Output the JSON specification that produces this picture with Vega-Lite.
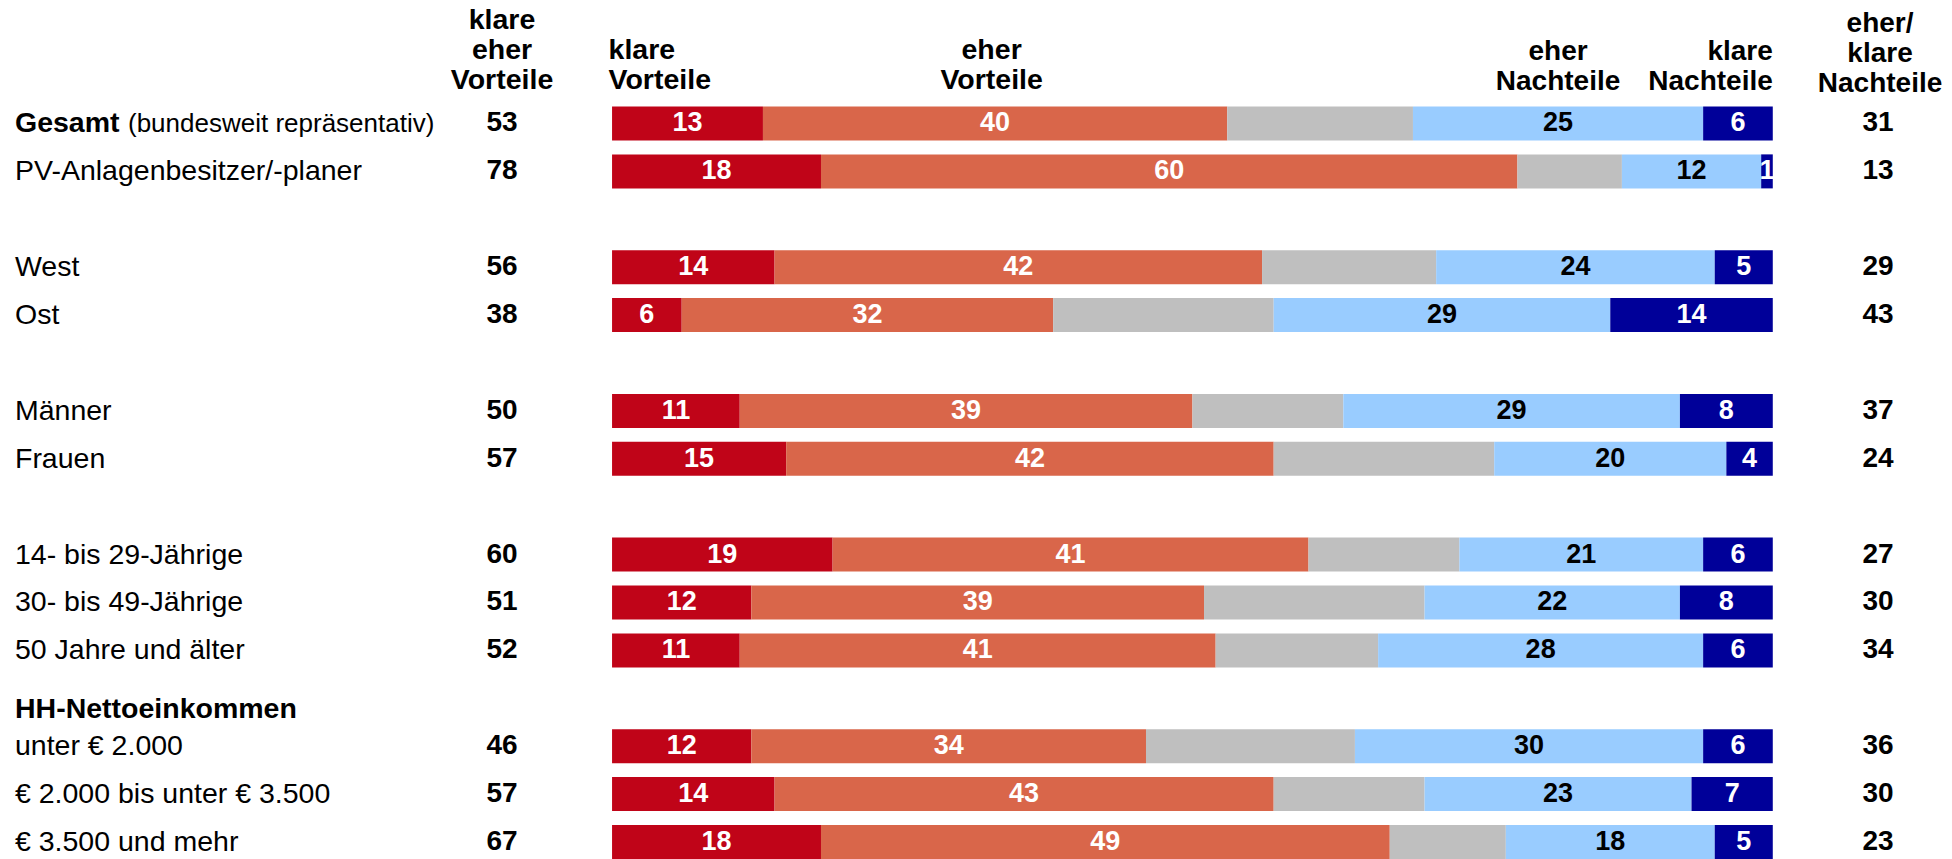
{
  "$schema": "https://vega.github.io/schema/vega-lite/v6.json",
  "width": 1952,
  "height": 859,
  "autosize": {"type": "fit", "contains": "padding"},
  "padding": 0,
  "background": "white",
  "config": {"view": {"stroke": null}, "font": "Liberation Sans", "text": {"font": "Liberation Sans"}},
  "datasets": {
    "cats": [
      {"cat": "klare Vorteile", "k": 1},
      {"cat": "eher Vorteile", "k": 2},
      {"cat": "weiß nicht", "k": 3},
      {"cat": "eher Nachteile", "k": 4},
      {"cat": "klare Nachteile", "k": 5}
    ],
    "bars": [
      {"row": "Gesamt", "cat": "klare Vorteile", "value": 13},
      {"row": "Gesamt", "cat": "eher Vorteile", "value": 40},
      {"row": "Gesamt", "cat": "weiß nicht", "value": 16},
      {"row": "Gesamt", "cat": "eher Nachteile", "value": 25},
      {"row": "Gesamt", "cat": "klare Nachteile", "value": 6},
      {"row": "PV-Anlagenbesitzer/-planer", "cat": "klare Vorteile", "value": 18},
      {"row": "PV-Anlagenbesitzer/-planer", "cat": "eher Vorteile", "value": 60},
      {"row": "PV-Anlagenbesitzer/-planer", "cat": "weiß nicht", "value": 9},
      {"row": "PV-Anlagenbesitzer/-planer", "cat": "eher Nachteile", "value": 12},
      {"row": "PV-Anlagenbesitzer/-planer", "cat": "klare Nachteile", "value": 1},
      {"row": "West", "cat": "klare Vorteile", "value": 14},
      {"row": "West", "cat": "eher Vorteile", "value": 42},
      {"row": "West", "cat": "weiß nicht", "value": 15},
      {"row": "West", "cat": "eher Nachteile", "value": 24},
      {"row": "West", "cat": "klare Nachteile", "value": 5},
      {"row": "Ost", "cat": "klare Vorteile", "value": 6},
      {"row": "Ost", "cat": "eher Vorteile", "value": 32},
      {"row": "Ost", "cat": "weiß nicht", "value": 19},
      {"row": "Ost", "cat": "eher Nachteile", "value": 29},
      {"row": "Ost", "cat": "klare Nachteile", "value": 14},
      {"row": "Männer", "cat": "klare Vorteile", "value": 11},
      {"row": "Männer", "cat": "eher Vorteile", "value": 39},
      {"row": "Männer", "cat": "weiß nicht", "value": 13},
      {"row": "Männer", "cat": "eher Nachteile", "value": 29},
      {"row": "Männer", "cat": "klare Nachteile", "value": 8},
      {"row": "Frauen", "cat": "klare Vorteile", "value": 15},
      {"row": "Frauen", "cat": "eher Vorteile", "value": 42},
      {"row": "Frauen", "cat": "weiß nicht", "value": 19},
      {"row": "Frauen", "cat": "eher Nachteile", "value": 20},
      {"row": "Frauen", "cat": "klare Nachteile", "value": 4},
      {"row": "14- bis 29-Jährige", "cat": "klare Vorteile", "value": 19},
      {"row": "14- bis 29-Jährige", "cat": "eher Vorteile", "value": 41},
      {"row": "14- bis 29-Jährige", "cat": "weiß nicht", "value": 13},
      {"row": "14- bis 29-Jährige", "cat": "eher Nachteile", "value": 21},
      {"row": "14- bis 29-Jährige", "cat": "klare Nachteile", "value": 6},
      {"row": "30- bis 49-Jährige", "cat": "klare Vorteile", "value": 12},
      {"row": "30- bis 49-Jährige", "cat": "eher Vorteile", "value": 39},
      {"row": "30- bis 49-Jährige", "cat": "weiß nicht", "value": 19},
      {"row": "30- bis 49-Jährige", "cat": "eher Nachteile", "value": 22},
      {"row": "30- bis 49-Jährige", "cat": "klare Nachteile", "value": 8},
      {"row": "50 Jahre und älter", "cat": "klare Vorteile", "value": 11},
      {"row": "50 Jahre und älter", "cat": "eher Vorteile", "value": 41},
      {"row": "50 Jahre und älter", "cat": "weiß nicht", "value": 14},
      {"row": "50 Jahre und älter", "cat": "eher Nachteile", "value": 28},
      {"row": "50 Jahre und älter", "cat": "klare Nachteile", "value": 6},
      {"row": "unter € 2.000", "cat": "klare Vorteile", "value": 12},
      {"row": "unter € 2.000", "cat": "eher Vorteile", "value": 34},
      {"row": "unter € 2.000", "cat": "weiß nicht", "value": 18},
      {"row": "unter € 2.000", "cat": "eher Nachteile", "value": 30},
      {"row": "unter € 2.000", "cat": "klare Nachteile", "value": 6},
      {"row": "€ 2.000 bis unter € 3.500", "cat": "klare Vorteile", "value": 14},
      {"row": "€ 2.000 bis unter € 3.500", "cat": "eher Vorteile", "value": 43},
      {"row": "€ 2.000 bis unter € 3.500", "cat": "weiß nicht", "value": 13},
      {"row": "€ 2.000 bis unter € 3.500", "cat": "eher Nachteile", "value": 23},
      {"row": "€ 2.000 bis unter € 3.500", "cat": "klare Nachteile", "value": 7},
      {"row": "€ 3.500 und mehr", "cat": "klare Vorteile", "value": 18},
      {"row": "€ 3.500 und mehr", "cat": "eher Vorteile", "value": 49},
      {"row": "€ 3.500 und mehr", "cat": "weiß nicht", "value": 10},
      {"row": "€ 3.500 und mehr", "cat": "eher Nachteile", "value": 18},
      {"row": "€ 3.500 und mehr", "cat": "klare Nachteile", "value": 5}
    ],
    "rows": [
      {"row": "Gesamt", "label": "Gesamt", "note": "(bundesweit repräsentativ)", "bold": true, "vor": 53, "nach": 31},
      {"row": "PV-Anlagenbesitzer/-planer", "label": "PV-Anlagenbesitzer/-planer", "vor": 78, "nach": 13},
      {"row": "West", "label": "West", "vor": 56, "nach": 29},
      {"row": "Ost", "label": "Ost", "vor": 38, "nach": 43},
      {"row": "Männer", "label": "Männer", "vor": 50, "nach": 37},
      {"row": "Frauen", "label": "Frauen", "vor": 57, "nach": 24},
      {"row": "14- bis 29-Jährige", "label": "14- bis 29-Jährige", "vor": 60, "nach": 27},
      {"row": "30- bis 49-Jährige", "label": "30- bis 49-Jährige", "vor": 51, "nach": 30},
      {"row": "50 Jahre und älter", "label": "50 Jahre und älter", "vor": 52, "nach": 34},
      {"row": "HH-Nettoeinkommen", "label": "HH-Nettoeinkommen", "bold": true, "heading": true},
      {"row": "unter € 2.000", "label": "unter € 2.000", "vor": 46, "nach": 36},
      {"row": "€ 2.000 bis unter € 3.500", "label": "€ 2.000 bis unter € 3.500", "vor": 57, "nach": 30},
      {"row": "€ 3.500 und mehr", "label": "€ 3.500 und mehr", "vor": 67, "nach": 23}
    ],
    "one": [{}]
  },
  "resolve": {"scale": {"color": "independent"}},
  "layer": [
    {
      "data": {"name": "bars"},
      "transform": [{"lookup": "cat", "from": {"data": {"name": "cats"}, "key": "cat", "fields": ["k"]}}],
      "mark": {"type": "bar"},
      "encoding": {
        "x": {"field": "value", "type": "quantitative", "stack": "zero", "scale": {"domain": [-52.73, 115.44], "nice": false, "zero": false}, "axis": null},
        "y": {"field": "row", "type": "nominal", "scale": {"domain": ["H", "Gesamt", "PV-Anlagenbesitzer/-planer", "gap1", "West", "Ost", "gap2", "Männer", "Frauen", "gap3", "14- bis 29-Jährige", "30- bis 49-Jährige", "50 Jahre und älter", "HH-Nettoeinkommen", "unter € 2.000", "€ 2.000 bis unter € 3.500", "€ 3.500 und mehr"], "paddingInner": 0.29, "paddingOuter": 0.6115, "align": 1}, "axis": null},
        "order": {"field": "k", "type": "quantitative", "sort": "ascending"},
        "color": {"field": "cat", "type": "nominal", "scale": {"domain": ["klare Vorteile", "eher Vorteile", "weiß nicht", "eher Nachteile", "klare Nachteile"], "range": ["#C00418", "#D9664A", "#BFBFBF", "#99CCFF", "#000099"]}, "legend": null}
      }
    },
    {
      "data": {"name": "bars"},
      "transform": [{"lookup": "cat", "from": {"data": {"name": "cats"}, "key": "cat", "fields": ["k"]}}],
      "mark": {"type": "text", "fontWeight": "bold", "fontSize": 27, "baseline": "middle", "align": "center"},
      "encoding": {
        "x": {"field": "value", "type": "quantitative", "stack": "zero", "bandPosition": 0.5, "scale": {"domain": [-52.73, 115.44], "nice": false, "zero": false}, "axis": null},
        "y": {"field": "row", "type": "nominal", "axis": null},
        "order": {"field": "k", "type": "quantitative", "sort": "ascending"},
        "color": {"field": "cat", "type": "nominal", "scale": {"domain": ["klare Vorteile", "eher Vorteile", "weiß nicht", "eher Nachteile", "klare Nachteile"], "range": ["#FFFFFF", "#FFFFFF", "#FFFFFF", "#000000", "#FFFFFF"]}, "legend": null},
        "text": {"condition": {"test": "datum.cat === 'weiß nicht'", "value": ""}, "field": "value", "type": "quantitative"}
      }
    },
    {
      "data": {"name": "rows"},
      "transform": [{"filter": "!datum.bold"}],
      "mark": {"type": "text", "fontSize": 28.5, "baseline": "middle", "align": "left", "color": "#000000"},
      "encoding": {
        "x": {"datum": -51.44, "type": "quantitative"},
        "y": {"field": "row", "type": "nominal"},
        "text": {"field": "label"}
      }
    },
    {
      "data": {"name": "rows"},
      "transform": [{"filter": "datum.bold && !datum.heading"}],
      "mark": {"type": "text", "fontSize": 28.5, "fontWeight": "bold", "baseline": "middle", "align": "left", "color": "#000000"},
      "encoding": {
        "x": {"datum": -51.44, "type": "quantitative"},
        "y": {"field": "row", "type": "nominal"},
        "text": {"field": "label"}
      }
    },
    {
      "data": {"name": "rows"},
      "transform": [{"filter": "datum.note"}],
      "mark": {"type": "text", "fontSize": 26, "baseline": "middle", "align": "left", "dx": 113, "dy": 1, "color": "#000000"},
      "encoding": {
        "x": {"datum": -51.44, "type": "quantitative"},
        "y": {"field": "row", "type": "nominal"},
        "text": {"field": "note"}
      }
    },
    {
      "data": {"name": "rows"},
      "transform": [{"filter": "datum.heading"}],
      "mark": {"type": "text", "fontSize": 28.5, "fontWeight": "bold", "baseline": "middle", "align": "left", "dy": 11, "color": "#000000"},
      "encoding": {
        "x": {"datum": -51.44, "type": "quantitative"},
        "y": {"field": "row", "type": "nominal"},
        "text": {"field": "label"}
      }
    },
    {
      "data": {"name": "rows"},
      "transform": [{"filter": "datum.vor != null"}],
      "mark": {"type": "text", "fontSize": 28, "fontWeight": "bold", "baseline": "middle", "align": "center", "color": "#000000"},
      "encoding": {
        "x": {"datum": -9.48, "type": "quantitative"},
        "y": {"field": "row", "type": "nominal"},
        "text": {"field": "vor", "type": "quantitative"}
      }
    },
    {
      "data": {"name": "rows"},
      "transform": [{"filter": "datum.nach != null"}],
      "mark": {"type": "text", "fontSize": 28, "fontWeight": "bold", "baseline": "middle", "align": "center", "color": "#000000"},
      "encoding": {
        "x": {"datum": 109.07, "type": "quantitative"},
        "y": {"field": "row", "type": "nominal"},
        "text": {"field": "nach", "type": "quantitative"}
      }
    },
    {
      "data": {"name": "one"},
      "mark": {"type": "text", "fontSize": 28.5, "fontWeight": "bold", "baseline": "alphabetic", "align": "center", "lineHeight": 30, "dy": -46.5, "color": "#000000"},
      "encoding": {
        "x": {"datum": -9.48, "type": "quantitative"},
        "y": {"datum": "H", "type": "nominal"},
        "text": {"value": ["klare", "eher", "Vorteile"]}
      }
    },
    {
      "data": {"name": "one"},
      "mark": {"type": "text", "fontSize": 28.5, "fontWeight": "bold", "baseline": "alphabetic", "align": "left", "lineHeight": 30, "dy": -16.5, "color": "#000000"},
      "encoding": {
        "x": {"datum": -0.3, "type": "quantitative"},
        "y": {"datum": "H", "type": "nominal"},
        "text": {"value": ["klare", "Vorteile"]}
      }
    },
    {
      "data": {"name": "one"},
      "mark": {"type": "text", "fontSize": 28.5, "fontWeight": "bold", "baseline": "alphabetic", "align": "center", "lineHeight": 30, "dy": -16.5, "color": "#000000"},
      "encoding": {
        "x": {"datum": 32.7, "type": "quantitative"},
        "y": {"datum": "H", "type": "nominal"},
        "text": {"value": ["eher", "Vorteile"]}
      }
    },
    {
      "data": {"name": "one"},
      "mark": {"type": "text", "fontSize": 28, "fontWeight": "bold", "baseline": "alphabetic", "align": "center", "lineHeight": 30, "dy": -15.5, "color": "#000000"},
      "encoding": {
        "x": {"datum": 81.5, "type": "quantitative"},
        "y": {"datum": "H", "type": "nominal"},
        "text": {"value": ["eher", "Nachteile"]}
      }
    },
    {
      "data": {"name": "one"},
      "mark": {"type": "text", "fontSize": 28, "fontWeight": "bold", "baseline": "alphabetic", "align": "right", "lineHeight": 30, "dy": -15.5, "color": "#000000"},
      "encoding": {
        "x": {"datum": 100, "type": "quantitative"},
        "y": {"datum": "H", "type": "nominal"},
        "text": {"value": ["klare", "Nachteile"]}
      }
    },
    {
      "data": {"name": "one"},
      "mark": {"type": "text", "fontSize": 28, "fontWeight": "bold", "baseline": "alphabetic", "align": "center", "lineHeight": 30, "dy": -44, "color": "#000000"},
      "encoding": {
        "x": {"datum": 109.24, "type": "quantitative"},
        "y": {"datum": "H", "type": "nominal"},
        "text": {"value": ["eher/", "klare", "Nachteile"]}
      }
    }
  ]
}
